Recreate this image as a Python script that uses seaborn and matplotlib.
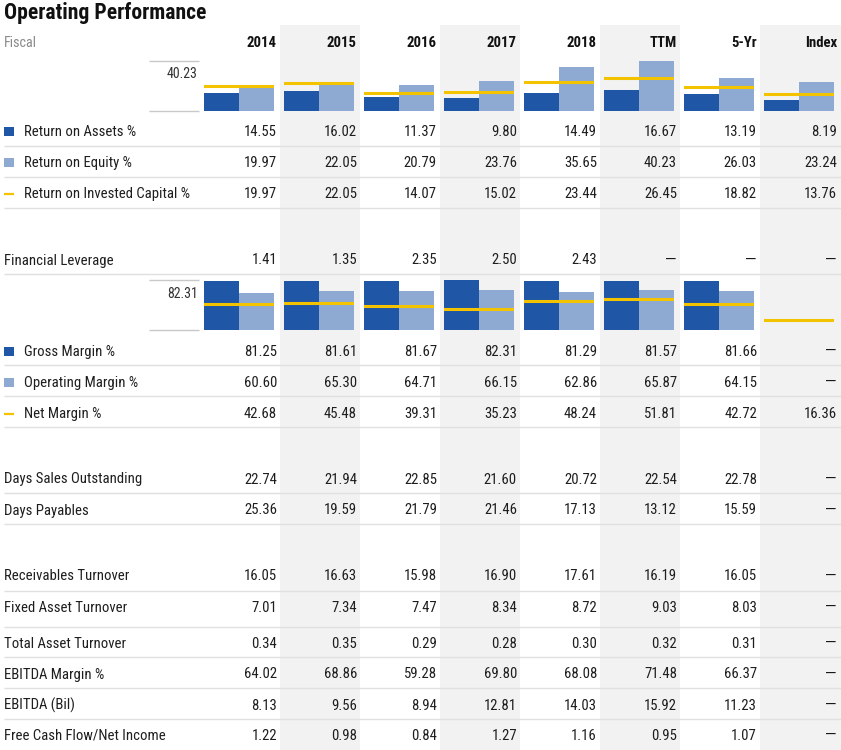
import matplotlib
matplotlib.use('Agg')
import matplotlib.pyplot as plt
import seaborn as sns
import numpy as np
import pandas as pd
from matplotlib.patches import Rectangle

plt.rcParams['font.family'] = ['Roboto Condensed', 'Liberation Sans Narrow', 'Roboto', 'DejaVu Sans']

NA = np.nan
columns = ['2014', '2015', '2016', '2017', '2018', 'TTM', '5-Yr', 'Index']

roa = [14.55, 16.02, 11.37, 9.80, 14.49, 16.67, 13.19, 8.19]
roe = [19.97, 22.05, 20.79, 23.76, 35.65, 40.23, 26.03, 23.24]
roic = [19.97, 22.05, 14.07, 15.02, 23.44, 26.45, 18.82, 13.76]
fin_leverage = [1.41, 1.35, 2.35, 2.50, 2.43, NA, NA, NA]
gross_margin = [81.25, 81.61, 81.67, 82.31, 81.29, 81.57, 81.66, NA]
operating_margin = [60.60, 65.30, 64.71, 66.15, 62.86, 65.87, 64.15, NA]
net_margin = [42.68, 45.48, 39.31, 35.23, 48.24, 51.81, 42.72, 16.36]
days_sales = [22.74, 21.94, 22.85, 21.60, 20.72, 22.54, 22.78, NA]
days_payables = [25.36, 19.59, 21.79, 21.46, 17.13, 13.12, 15.59, NA]
recv_turnover = [16.05, 16.63, 15.98, 16.90, 17.61, 16.19, 16.05, NA]
fixed_turnover = [7.01, 7.34, 7.47, 8.34, 8.72, 9.03, 8.03, NA]
total_turnover = [0.34, 0.35, 0.29, 0.28, 0.30, 0.32, 0.31, NA]
ebitda_margin = [64.02, 68.86, 59.28, 69.80, 68.08, 71.48, 66.37, NA]
ebitda_bil = [8.13, 9.56, 8.94, 12.81, 14.03, 15.92, 11.23, NA]
fcf_ni = [1.22, 0.98, 0.84, 1.27, 1.16, 0.95, 1.07, NA]

DARK = '#1f56a5'
LIGHT = '#8eaad3'
YELLOW = '#f4c300'
TEXT = '#1e1e1e'
SEP = '#e0e0e0'
SHADE = '#f2f2f2'

W, H = 841, 750
fig = plt.figure(figsize=(W / 100, H / 100), dpi=100)
ax = fig.add_axes([0, 0, 1, 1])
ax.set_xlim(0, W)
ax.set_ylim(H, 0)
ax.axis('off')

COL_L, COL_W = 200, 80
FS = 10.6

for i in (1, 3, 5, 7):
    ax.add_patch(Rectangle((COL_L + i * COL_W, 25), COL_W + (1 if i == 7 else 0), H - 25,
                           color=SHADE, lw=0, zorder=0))

ax.text(4, 18.5, 'Operating Performance', fontsize=15.6, fontweight='bold',
        color='#111111', va='baseline', ha='left')
ax.text(4, 47, 'Fiscal', fontsize=10.2, color='#8a8a8a', va='baseline', ha='left')
for i, c in enumerate(columns):
    ax.text(COL_L + i * COL_W + 77, 47, c, fontsize=FS, fontweight='bold',
            color='#111111', va='baseline', ha='right')


def is_missing(v):
    return v is None or np.isnan(v)


def row(label, values, base, marker=None):
    x0 = 4
    if marker == 'dark' or marker == 'light':
        ax.add_patch(Rectangle((4, base - 9), 10, 9, color=DARK if marker == 'dark' else LIGHT,
                               lw=0, zorder=3))
        x0 = 24
    elif marker == 'line':
        ax.plot([4, 14], [base - 4, base - 4], color=YELLOW, lw=1.6, zorder=3,
                solid_capstyle='butt')
        x0 = 24
    ax.text(x0, base, label, fontsize=FS, color=TEXT, va='baseline', ha='left')
    for i, v in enumerate(values):
        xr = COL_L + i * COL_W + 77
        if is_missing(v):
            ax.text(xr, base, '—', fontsize=FS, color='#111111', va='baseline',
                    ha='right', family=['Roboto', 'DejaVu Sans'])
        else:
            ax.text(xr, base, f'{v:.2f}', fontsize=FS, color=TEXT,
                    va='baseline', ha='right')


rows = [
    ('Return on Assets %', roa, 136, 'dark'),
    ('Return on Equity %', roe, 167, 'light'),
    ('Return on Invested Capital %', roic, 198, 'line'),
    ('Financial Leverage', fin_leverage, 264.5, None),
    ('Gross Margin %', gross_margin, 356, 'dark'),
    ('Operating Margin %', operating_margin, 387, 'light'),
    ('Net Margin %', net_margin, 418, 'line'),
    ('Days Sales Outstanding', days_sales, 483.5, None),
    ('Days Payables', days_payables, 514.5, None),
    ('Receivables Turnover', recv_turnover, 580.5, None),
    ('Fixed Asset Turnover', fixed_turnover, 611.5, None),
    ('Total Asset Turnover', total_turnover, 647.5, None),
    ('EBITDA Margin %', ebitda_margin, 678.5, None),
    ('EBITDA (Bil)', ebitda_bil, 709.5, None),
    ('Free Cash Flow/Net Income', fcf_ni, 740, None),
]
for r in rows:
    row(*r)

seps = [146, 177, 208, 274, 365, 396, 427, 493, 524, 590.5, 626.5, 657, 688, 719]
ax.hlines(seps, 4, W, color=SEP, lw=1, zorder=2)


def px_axes(x0, y0, x1, y1):
    return fig.add_axes([x0 / W, 1 - y1 / H, (x1 - x0) / W, (y1 - y0) / H])


def mini_chart(bar1, bar2, line, top, bottom):
    vmax = np.nanmax(np.array(bar1 + bar2 + line, dtype=float))
    ax.hlines([top, bottom], 149, 199, color='#c8c8c8', lw=1, zorder=3)
    ax.text(198, top + 17.5, f'{vmax:.2f}', fontsize=10, color='#333333',
            va='baseline', ha='right')
    for i in range(len(columns)):
        a = px_axes(COL_L + i * COL_W + 4, top, COL_L + i * COL_W + 74, bottom)
        a.patch.set_alpha(0)
        df = pd.DataFrame({'k': ['a', 'b'], 'v': [bar1[i], bar2[i]]})
        if df['v'].notna().any():
            sns.barplot(data=df, x='k', y='v', hue='k', palette=[DARK, LIGHT],
                        width=1.0, saturation=1, legend=False, linewidth=0, ax=a)
        if not np.isnan(line[i]):
            a.axhline(line[i], color=YELLOW, lw=2.2, zorder=5)
        a.set_xlim(-0.5, 1.5)
        a.set_ylim(0, vmax)
        a.axis('off')


mini_chart(roa, roe, roic, 61, 110.5)
mini_chart(gross_margin, operating_margin, net_margin, 280.3, 330.3)

fig.savefig('out.png', dpi=100)
